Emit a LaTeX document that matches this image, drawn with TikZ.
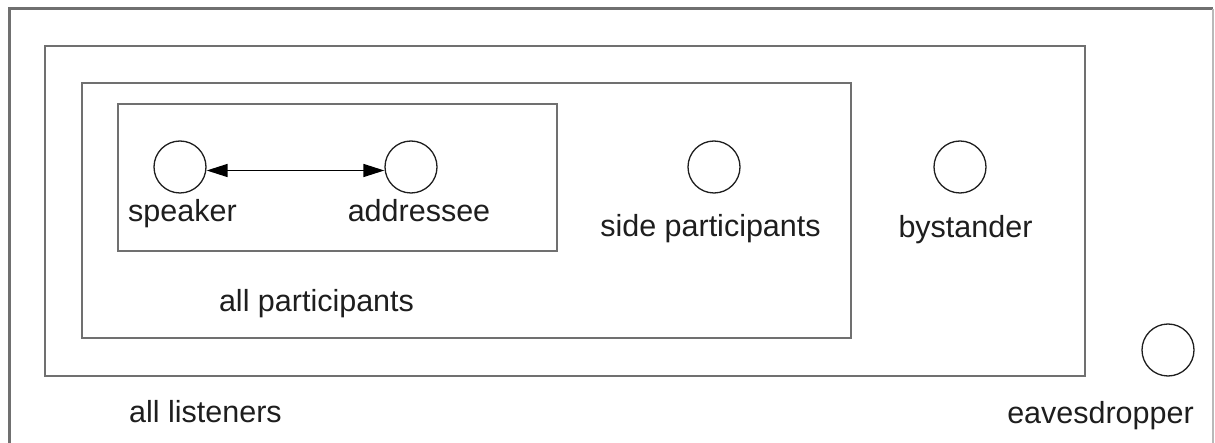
\documentclass[tikz,border=0pt]{standalone}
\usepackage{fontspec}
\setmainfont{Liberation Sans}
\usetikzlibrary{arrows.meta}
\definecolor{framegray}{RGB}{112,112,112}
\definecolor{edgegray}{RGB}{185,185,185}
\definecolor{inkdark}{RGB}{30,30,30}
\tikzset{
  frame/.style={draw=framegray, line width=2.6pt},
  role/.style={circle, draw=inkdark, line width=1.3pt, minimum size=52pt, inner sep=0pt},
  caption/.style={anchor=base, inner sep=0pt, text=inkdark,
    font=\fontsize{30.5}{36}\selectfont},
  talk/.style={draw=black, line width=1.5pt,
    {Triangle[length=21pt,width=13pt]}-{Triangle[length=21pt,width=13pt]}},
}
\begin{document}
\begin{tikzpicture}[x=1pt, y=-1pt]
  \clip (0,0) rectangle (1215,443);
  \fill[white] (0,0) rectangle (1215,443);

  % outermost frame, open at the bottom
  \draw[framegray, line width=3pt] (9,460) -- (9,9) -- (1213,9);
  \draw[edgegray, line width=1.6pt] (1213,9) -- (1213,460);

  % nested groups
  \draw[frame] (45,46) rectangle (1085,376);   % all listeners
  \draw[frame] (82,83) rectangle (851,338);    % all participants
  \draw[frame] (118,104) rectangle (557,251);  % speaker and addressee

  % roles
  \node[role] (speaker)   at (180,167) {};
  \node[role] (addressee) at (411,167) {};
  \node[role] (side)      at (714,167) {};
  \node[role] (bystander) at (960,167) {};
  \node[role] (eaves)     at (1168,350) {};

  \draw[talk] ([yshift=-3.5pt]speaker.east) -- ([yshift=-3.5pt]addressee.west);

  % labels
  \node[caption] (speakerlbl)   at (182.5,222) {speaker};
  \node[caption] (addresseelbl) at (419,222)   {addressee};
  \node[caption] (sidelbl)      at (710.5,237) {side participants};
  \node[caption] (bystanderlbl) at (965.5,238) {bystander};
  \node[caption] (partlbl)      at (316.5,312) {all participants};
  \node[caption] (listenlbl)    at (205.5,422) {all listeners};
  \node[caption] (eaveslbl)     at (1100.5,423) {eavesdropper};
\end{tikzpicture}
\end{document}
